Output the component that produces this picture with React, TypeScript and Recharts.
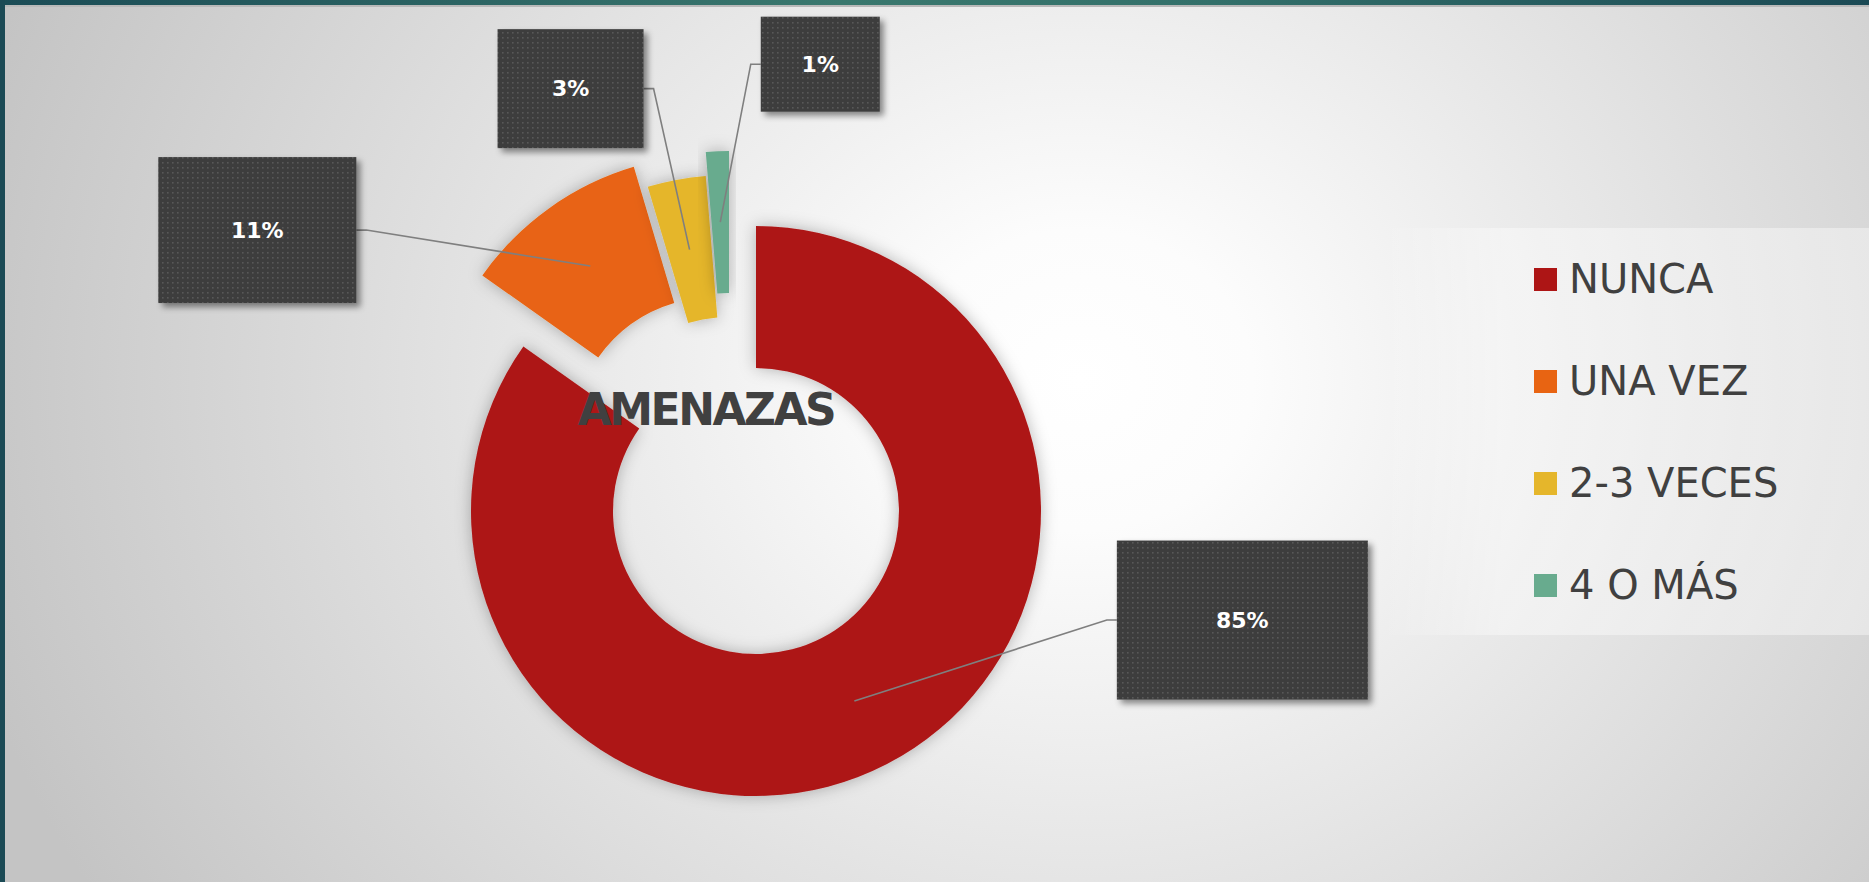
import { PieChart, Pie, Cell, Legend } from 'recharts';

// answer shares (%) for "AMENAZAS"
const categories = ['NUNCA', 'UNA VEZ', '2-3 VECES', '4 O MÁS'];
const values = [84.8, 10.6, 3.3, 1.3];
const colors = ['#ad1515', '#e86412', '#e5b62b', '#68ab8e'];

const W = 1869;
const H = 882;
const CX = 756;
const CY = 511;
const INNER = 143;
const OUTER = 285;
const RADIAN = Math.PI / 180;

// how far each slice is pulled out of the ring
const explode = [
  { dx: 0, dy: 0 },
  { dx: -41, dy: -71 },
  { dx: -27, dy: -51 },
  { dx: -27, dy: -75 },
];

// label boxes, placed relative to the leader-line anchor in the slice
const labelBoxes = [
  { dx: 388, dy: -81, w: 251, h: 159 },
  { dx: -333, dy: -36, w: 198, h: 146 },
  { dx: -119, dy: -161, w: 146, h: 119 },
  { dx: 100, dy: -158, w: 119, h: 95 },
];

const data = categories.map((name, i) => ({ name, value: values[i] }));

const makeLabel = (target: number) => (props: any) => {
  const { cx, cy, midAngle, innerRadius, outerRadius, percent, index } = props;
  if (index !== target) return null;
  const r = (innerRadius + outerRadius) / 2;
  const ax = cx + r * Math.cos(-midAngle * RADIAN);
  const ay = cy + r * Math.sin(-midAngle * RADIAN);
  const box = labelBoxes[index];
  const bx = ax + box.dx;
  const by = ay + box.dy;
  const boxOnRight = box.dx > 0;
  const edgeX = boxOnRight ? bx - box.w / 2 : bx + box.w / 2;
  const elbowX = boxOnRight ? edgeX - 10 : edgeX + 10;
  return (
    <g>
      <polyline
        points={`${ax},${ay} ${elbowX},${by} ${edgeX},${by}`}
        fill="none"
        stroke="#7f7f7f"
        strokeWidth={1.6}
      />
      <rect
        x={bx - box.w / 2}
        y={by - box.h / 2}
        width={box.w}
        height={box.h}
        fill="url(#dots)"
        filter="url(#boxShadow)"
      />
      <text
        x={bx}
        y={by}
        textAnchor="middle"
        dominantBaseline="central"
        fill="#ffffff"
        fontSize={22}
        fontWeight="bold"
        fontFamily="DejaVu Sans"
      >
        {`${Math.round(percent * 100)}%`}
      </text>
    </g>
  );
};

const LegendList = () => (
  <div>
    {categories.map((c, i) => (
      <div key={c} style={{ display: 'flex', alignItems: 'center', height: 102 }}>
        <span style={{ display: 'inline-block', width: 23, height: 23, background: colors[i], marginRight: 12 }} />
        <span style={{ fontSize: 40, lineHeight: 1, color: '#404040', fontFamily: 'DejaVu Sans', whiteSpace: 'nowrap' }}>
          {c}
        </span>
      </div>
    ))}
  </div>
);

export default function App() {
  return (
    <div
      style={{
        position: 'relative',
        width: W,
        height: H,
        overflow: 'hidden',
        background:
          'radial-gradient(ellipse 1150px 1000px at 1080px 380px, #ffffff 0%, #fcfcfc 15%, #c4c4c4 100%)',
      }}
    >
      <style>{'body{margin:0}'}</style>

      {/* legend panel */}
      <div
        style={{
          position: 'absolute',
          left: 1380,
          top: 228,
          width: W - 1380,
          height: 407,
          background: 'linear-gradient(to right, rgba(255,255,255,0) 0%, rgba(255,255,255,0.4) 25%, rgba(255,255,255,0.4) 100%)',
        }}
      />

      <div style={{ position: 'absolute', left: 0, top: 0 }}>
        <PieChart width={W} height={H} margin={{ top: 0, right: 0, bottom: 0, left: 0 }}>
          <defs>
            <pattern id="dots" width={5} height={5} patternUnits="userSpaceOnUse">
              <rect width={5} height={5} fill="#3c3c3c" />
              <rect x={2} y={2} width={1.6} height={1.6} fill="#585858" />
            </pattern>
            <filter id="boxShadow" x="-10%" y="-10%" width="130%" height="130%">
              <feDropShadow dx={4} dy={4} stdDeviation={3} floodColor="#000000" floodOpacity={0.45} />
            </filter>
            <filter id="sliceShadow" x="-30%" y="-30%" width="160%" height="160%">
              <feDropShadow dx={0} dy={0} stdDeviation={8} floodColor="#000000" floodOpacity={0.28} />
            </filter>
          </defs>
          {categories.map((_, k) => (
            <Pie
              key={k}
              data={data}
              dataKey="value"
              nameKey="name"
              cx={CX + explode[k].dx}
              cy={CY + explode[k].dy}
              innerRadius={INNER}
              outerRadius={OUTER}
              startAngle={90}
              endAngle={-270}
              stroke="none"
              legendType={k === 0 ? 'square' : 'none'}
              label={makeLabel(k)}
              labelLine={false}
              isAnimationActive={false}
            >
              {data.map((d, i) => (
                <Cell
                  key={d.name}
                  fill={i === k ? colors[i] : 'transparent'}
                  filter={i === k ? 'url(#sliceShadow)' : undefined}
                />
              ))}
            </Pie>
          ))}
          <Legend
            layout="vertical"
            align="right"
            verticalAlign="top"
            wrapperStyle={{ position: 'absolute', left: 1534, top: 228, width: 320 }}
            content={() => <LegendList />}
          />
        </PieChart>
      </div>

      {/* chart title, over the ring */}
      <div
        style={{
          position: 'absolute',
          left: 506,
          top: 388,
          width: 400,
          textAlign: 'center',
          fontFamily: 'DejaVu Sans',
          fontWeight: 'bold',
          fontSize: 44,
          lineHeight: 1,
          letterSpacing: -2.5,
          color: '#404040',
        }}
      >
        AMENAZAS
      </div>

      {/* slide frame */}
      <div
        style={{
          position: 'absolute',
          left: 0,
          top: 0,
          width: W,
          height: 5,
          background: 'linear-gradient(to right, #1b4c56 0%, #3a786e 45%, #33706a 65%, #1b4a55 100%)',
        }}
      />
      <div style={{ position: 'absolute', left: 5, top: 5, width: W - 5, height: 2, background: '#b9b9b9' }} />
      <div style={{ position: 'absolute', left: 0, top: 0, width: 5, height: H, background: '#1b4a55' }} />
    </div>
  );
}
